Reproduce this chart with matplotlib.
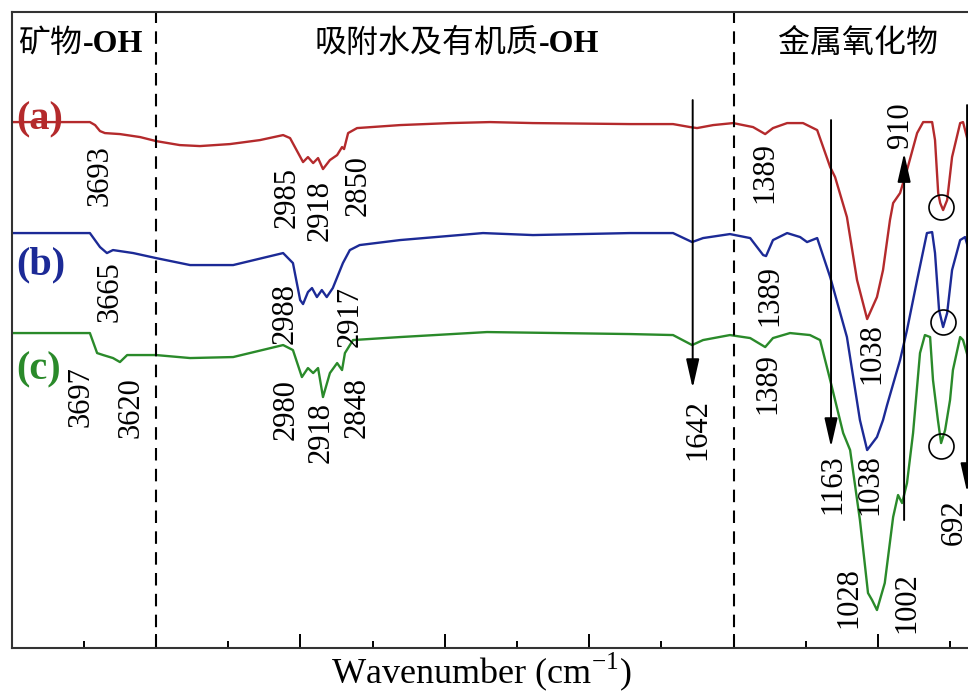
import matplotlib
matplotlib.use("Agg")
import matplotlib.pyplot as plt
from matplotlib.ticker import MultipleLocator

plt.rcParams['font.family'] = ['Liberation Serif', 'Noto Sans CJK SC']
plt.rcParams['mathtext.fontset'] = 'custom'
plt.rcParams['mathtext.rm'] = 'Liberation Serif'

# FTIR spectra (wavenumber in cm-1, transmittance in a.u.)
wn_a = [4000, 3729, 3711, 3694, 3677, 3625, 3555, 3500, 3418, 3348, 3244, 3140,
        3060, 3036, 2991, 2974, 2956, 2939, 2922, 2898, 2873, 2856, 2849, 2835,
        2804, 2655, 2482, 2344, 2195, 1859, 1710, 1651, 1627, 1571, 1502, 1433,
        1391, 1364, 1315, 1260, 1211, 1166, 1149, 1108, 1073, 1038, 1004, 983,
        959, 948, 924, 900, 865, 844, 813, 803, 792, 785, 775, 761, 744, 716,
        706, 681]
t_a = [52.6, 52.6, 52.3, 51.7, 51.5, 51.4, 51.1, 50.7, 50.3, 50.2, 50.4, 50.8,
       51.3, 51.0, 48.6, 49.1, 48.5, 49.0, 47.9, 48.8, 49.3, 50.1, 49.9, 51.5,
       52.0, 52.3, 52.5, 52.6, 52.5, 52.4, 52.4, 52.1, 52.0, 52.3, 52.5, 52.1,
       51.4, 52.0, 52.5, 52.5, 51.8, 48.1, 47.1, 43.1, 36.8, 32.9, 35.1, 37.8,
       42.8, 44.5, 45.5, 47.8, 51.5, 52.6, 52.6, 50.8, 45.5, 44.5, 43.8, 44.8,
       49.1, 52.5, 52.6, 49.8]

wn_b = [4000, 3729, 3694, 3670, 3649, 3579, 3500, 3382, 3233, 3060, 3026, 3001,
        2991, 2974, 2960, 2943, 2926, 2909, 2888, 2853, 2829, 2795, 2655, 2368,
        2195, 1859, 1710, 1644, 1606, 1513, 1443, 1398, 1388, 1364, 1315, 1270,
        1246, 1211, 1166, 1108, 1063, 1038, 1004, 983, 969, 924, 900, 865, 831,
        813, 803, 789, 775, 761, 744, 716, 699, 681]
t_b = [41.5, 41.5, 40.1, 39.5, 39.8, 39.5, 39.0, 38.3, 38.3, 39.5, 38.5, 34.8,
       34.4, 35.6, 36.0, 35.1, 35.8, 35.1, 36.0, 38.5, 39.8, 40.3, 40.8, 41.5,
       41.3, 41.5, 41.5, 40.6, 41.0, 41.4, 41.0, 39.3, 39.2, 40.8, 41.5, 41.1,
       40.6, 41.0, 37.1, 31.1, 22.8, 19.8, 21.1, 22.8, 24.3, 28.8, 31.8, 36.8,
       41.5, 41.6, 39.5, 33.8, 32.1, 33.5, 37.8, 40.8, 41.1, 39.3]

wn_c = [4000, 3729, 3704, 3683, 3649, 3625, 3600, 3500, 3382, 3233, 3060, 3026,
        2995, 2974, 2956, 2939, 2922, 2898, 2873, 2856, 2846, 2818, 2655, 2354,
        1859, 1710, 1644, 1606, 1513, 1443, 1391, 1364, 1305, 1236, 1201, 1166,
        1121, 1097, 1063, 1035, 1021, 1004, 977, 948, 931, 917, 900, 879, 855,
        838, 820, 810, 793, 782, 768, 751, 741, 716, 706, 681]
t_c = [31.5, 31.5, 29.5, 29.3, 29.0, 28.6, 29.3, 29.3, 29.0, 29.1, 30.3, 29.8,
       27.1, 28.0, 27.5, 28.0, 25.1, 27.5, 28.5, 27.8, 29.5, 30.8, 31.1, 31.6,
       31.4, 31.3, 30.3, 30.8, 31.3, 31.0, 30.1, 31.0, 31.5, 31.3, 30.8, 26.8,
       21.5, 19.8, 12.8, 5.5, 4.8, 3.8, 6.5, 13.1, 15.3, 14.5, 16.5, 21.5, 29.5,
       31.3, 31.1, 26.8, 22.8, 20.5, 21.8, 24.8, 27.8, 31.1, 30.8, 28.3]

sample_names = ['(a)', '(b)', '(c)']
region_names = ['矿物', '吸附水及有机质', '金属氧化物']
region_bounds = [3500, 1500]

# peak labels: text, wavenumber / level of the label centre
peak_labels = [
    ('3693', 3694, 47.3), ('2985', 3047, 45.1), ('2918', 2932, 43.8),
    ('2850', 2801, 46.3), ('1389', 1392, 47.6), ('1038', 1021, 29.4),
    ('910', 924, 52.3),
    ('3665', 3659, 35.6), ('2988', 3053, 33.5), ('2917', 2828, 33.2),
    ('1389', 1374, 35.3), ('1038', 1028, 16.3),
    ('3697', 3760, 25.1), ('3620', 3587, 24.0), ('2980', 3050, 23.8),
    ('2918', 2929, 21.6), ('2848', 2804, 24.1), ('1389', 1381, 26.5),
    ('1642', 1625, 21.8), ('1163', 1155, 16.4), ('1028', 1102, 5.0),
    ('1002', 901, 4.5), ('692', 735, 12.6),
]

# marker arrows: wavenumber, start level, end level
arrows = [(1642, 54.8, 26.0), (1163, 52.8, 20.1), (910, 12.8, 49.5), (692, 54.3, 15.6)]

# circled bands near 780 cm-1
circles_wn = [782, 775, 782]
circles_t = [44.1, 32.6, 20.2]


def plot():
    colors = ['#b42a2c', '#1c2a96', '#2a8a2a']
    fig = plt.figure(figsize=(9.68, 6.95), dpi=100)
    ax = fig.add_axes([0.012, 0.0676, 1.0145, 0.915])

    for wn, t, c in zip([wn_a, wn_b, wn_c], [t_a, t_b, t_c], colors):
        ax.plot(wn, t, color=c, lw=1.7)

    ax.set_xlim(4000, 600)
    ax.set_ylim(0, 63.6)

    for b in region_bounds:
        ax.axvline(b, color='k', lw=1.5, ls=(0, (6, 4)))

    for name, y, c in zip(sample_names, [52.8, 38.3, 27.8], colors):
        ax.text(3985, y, name, color=c, fontsize=29, fontweight='bold',
                ha='left', va='center')

    for txt, x, y in peak_labels:
        ax.text(x, y, txt, rotation=90, fontsize=22, ha='center', va='center')

    for x, y0, y1 in arrows:
        ax.annotate('', xy=(x, y1), xytext=(x, y0),
                    arrowprops=dict(arrowstyle='-|>,head_length=1.1,head_width=0.25',
                                    mutation_scale=16, lw=1.4, color='k',
                                    shrinkA=0, shrinkB=0))

    ax.plot(circles_wn, circles_t, ls='none', marker='o', ms=18,
            mfc='none', mec='k', mew=1.2)

    # region titles
    ax.text(3755, 60.4, region_names[0], fontsize=23, ha='right', va='center')
    ax.text(3755, 60.4, '-OH', fontsize=23, fontweight='bold', ha='left', va='center')
    ax.text(2175, 60.4, region_names[1], fontsize=23, ha='right', va='center')
    ax.text(2175, 60.4, '-OH', fontsize=23, fontweight='bold', ha='left', va='center')
    ax.text(1069, 60.4, region_names[2], fontsize=23, ha='center', va='center')

    ax.xaxis.set_major_locator(MultipleLocator(500))
    ax.xaxis.set_minor_locator(MultipleLocator(250))
    ax.tick_params(axis='x', which='major', direction='in', length=10, width=1.4,
                   labelbottom=False, top=False)
    ax.tick_params(axis='x', which='minor', direction='in', length=5, width=1.4, top=False)
    ax.set_yticks([])
    for s in ax.spines.values():
        s.set_linewidth(1.5)
        s.set_color('#333333')

    fig.text(0.497, 0.033, 'Wavenumber (cm$^{\\mathrm{-1}}$)', fontsize=26,
             ha='center', va='center')

    fig.savefig('out.png', dpi=100)


if __name__ == '__main__':
    plot()
